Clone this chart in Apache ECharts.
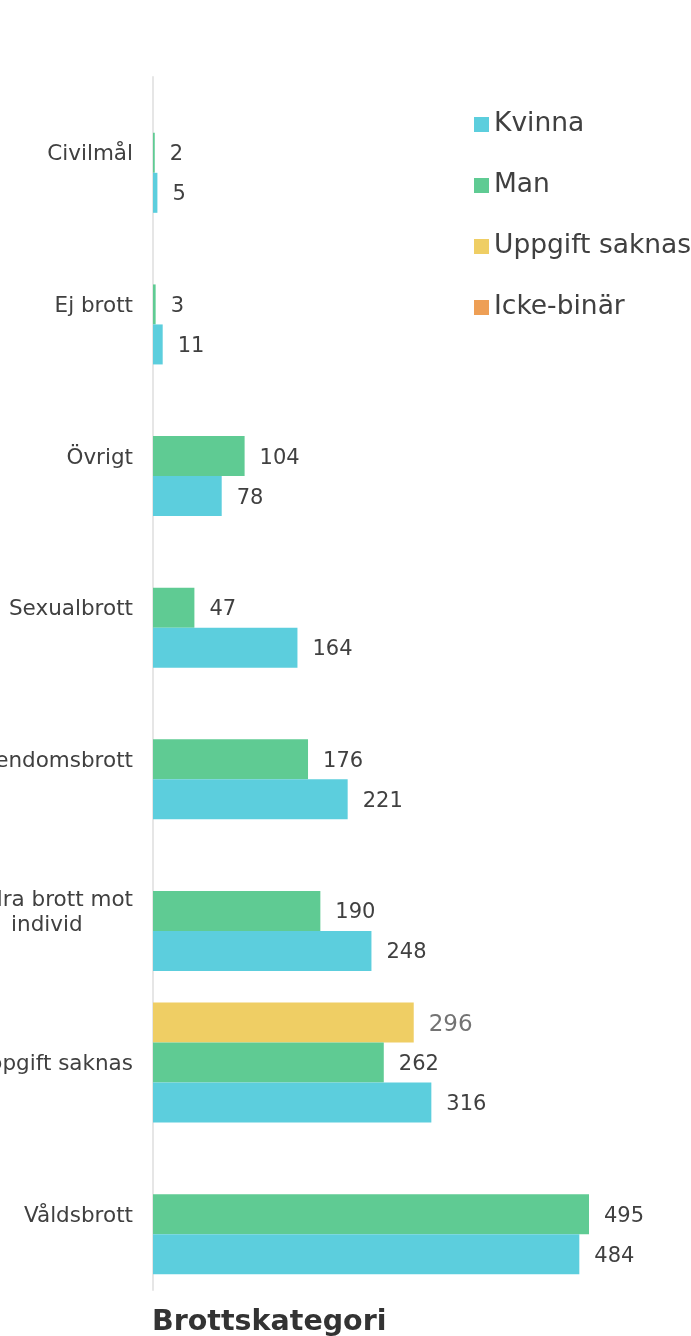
<!DOCTYPE html>
<html>
<head>
<meta charset="utf-8">
<script src="https://cdn.jsdelivr.net/npm/echarts@6/dist/echarts.min.js"></script>
<style>
html,body{margin:0;padding:0;background:#fff;}
#chart{width:691px;height:1336px;}
</style>
</head>
<body>
<div id="chart"></div>
<script>
// Data
var categories = ['Civilmål', 'Ej brott', 'Övrigt', 'Sexualbrott', 'Egendomsbrott', 'Andra brott mot individ', 'Uppgift saknas', 'Våldsbrott'];
var kvinna = [5, 11, 78, 164, 221, 248, 316, 484];
var man = [2, 3, 104, 47, 176, 190, 262, 495];
var uppgiftSaknas = [null, null, null, null, null, null, 296, null];
var ickeBinar = [];
var legendNames = ['Kvinna', 'Man', 'Uppgift saknas', 'Icke-binär'];
var axisTitle = 'Brottskategori';

var FONT = '"DejaVu Sans", Verdana, sans-serif';
var TXT = '#404040';
var colors = {
  'Kvinna': '#5CCEDD',
  'Man': '#5FCB93',
  'Uppgift saknas': '#EFCE64',
  'Icke-binär': '#EE9F55'
};

function wrapLabel(v) {
  var lines = [];
  if (v.length > 16) {
    var idx = v.lastIndexOf(' ', 16);
    lines = [v.slice(0, idx), v.slice(idx + 1)];
  } else {
    lines = [v];
  }
  return lines.map(function (l) { return '{c|' + l + '}'; }).join('\n');
}

var valueLabel = {
  show: true, position: 'right', distance: 15, offset: [0, 2],
  fontSize: 21, color: TXT, fontFamily: FONT
};

var chart = echarts.init(document.getElementById('chart'), null, {renderer: 'canvas'});
chart.setOption({
  animation: false,
  backgroundColor: '#ffffff',
  title: {
    text: axisTitle,
    left: 152, top: 1308, padding: 0,
    textStyle: {fontSize: 28.5, fontWeight: 'bold', color: '#333333', fontFamily: FONT}
  },
  legend: {
    orient: 'vertical',
    left: 474, top: 111, padding: 0,
    icon: 'rect',
    itemWidth: 15, itemHeight: 15,
    itemGap: 34,
    data: legendNames,
    textStyle: {fontSize: 26.5, lineHeight: 26, color: TXT, fontFamily: FONT}
  },
  grid: {left: 153, top: 77, height: 1213, width: 528.5, containLabel: false, outerBoundsMode: 'none'},
  xAxis: {
    type: 'value', min: 0, max: 600,
    show: false,
    splitLine: {show: false}
  },
  yAxis: {
    type: 'category',
    inverse: true,
    data: categories,
    axisTick: {show: false},
    axisLine: {show: true, lineStyle: {color: '#e6e6e6', width: 2}},
    axisLabel: {
      margin: 20,
      padding: [4, 0, 0, 0],
      hideOverlap: false,
      formatter: wrapLabel,
      rich: {c: {align: 'center', fontSize: 21.5, lineHeight: 25, color: TXT, fontFamily: FONT}}
    }
  },
  series: [
    {
      name: 'Uppgift saknas', type: 'bar', data: uppgiftSaknas,
      barWidth: 40, barGap: '0%',
      itemStyle: {color: colors['Uppgift saknas']},
      label: Object.assign({}, valueLabel, {fontSize: 23, color: '#737373'})
    },
    {
      name: 'Man', type: 'bar', data: man,
      barWidth: 40, barGap: '0%',
      itemStyle: {color: colors['Man']},
      label: valueLabel
    },
    {
      name: 'Kvinna', type: 'bar', data: kvinna,
      barWidth: 40, barGap: '0%',
      itemStyle: {color: colors['Kvinna']},
      label: valueLabel
    },
    {
      name: 'Icke-binär', type: 'line', data: ickeBinar,
      itemStyle: {color: colors['Icke-binär']},
      lineStyle: {color: colors['Icke-binär']}
    }
  ]
});
</script>
</body>
</html>
